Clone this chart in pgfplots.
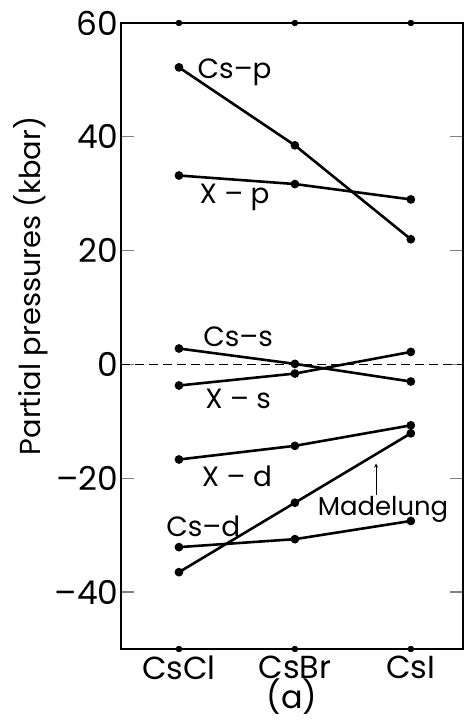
\documentclass[border=0pt]{standalone}
\usepackage{fontspec}
\setmainfont{Poppins}
\usepackage{pgfplots}
\pgfplotsset{compat=1.18}
\pgfplotsset{myline/.style={black, solid, line width=2.6pt, mark=*, mark size=3pt, mark options={solid, fill=black}}}
\begin{document}
\begin{tikzpicture}
\begin{axis}[
  scale only axis,
  width=342bp, height=626bp,
  xmin=-0.5, xmax=2.45,
  ymin=-50, ymax=60,
  xtick={0,1,2},
  xticklabels={CsCl,CsBr,CsI},
  ytick={-40,-20,0,20,40,60},
  yticklabels={\textendash40,\textendash20,0,20,40,60},
  xtick style={draw=none},
  ytick style={line width=1.2pt},
  major tick length=13bp,
  axis line style={line width=1.4pt},
  xticklabel style={font=\fontsize{32}{34}\selectfont, yshift=-6bp, inner sep=1bp},
  yticklabel style={font=\fontsize{33}{35}\selectfont, xshift=1bp},
  ylabel={Partial pressures (kbar)},
  ylabel style={font=\fontsize{29}{31}\selectfont, at={(ticklabel cs:0.58)}},
  xlabel={(a)},
  xlabel style={font=\fontsize{32}{34}\selectfont, yshift=4bp, inner sep=1bp},
  clip=false,
]
\addplot[myline] coordinates {(0,52.2) (1,38.5) (2,22.0)};
\addplot[myline] coordinates {(0,33.2) (1,31.7) (2,29.0)};
\addplot[myline] coordinates {(0,2.8) (1,0.1) (2,-3.0)};
\addplot[myline] coordinates {(0,-3.7) (1,-1.6) (2,2.2)};
\addplot[myline] coordinates {(0,-16.7) (1,-14.3) (2,-10.7)};
\addplot[myline] coordinates {(0,-36.5) (1,-24.3) (2,-12.1)};
\addplot[myline] coordinates {(0,-32.1) (1,-30.7) (2,-27.5)};
\addplot[black, only marks, mark=*, mark size=3pt] coordinates {(0,60) (1,60) (2,60)};
\addplot[black, only marks, mark=*, mark size=3pt] coordinates {(0,-50) (1,-50) (2,-50)};
\addplot[black, no marks, line width=1.8pt, dash pattern=on 9bp off 5bp] coordinates {(-0.5,0) (2.45,0)};
\node[font=\fontsize{28}{30}\selectfont] at (axis cs:0.48,51.3) {Cs\textendash p};
\node[font=\fontsize{28}{30}\selectfont] at (axis cs:0.48,29.3) {X \textendash\ p};
\node[font=\fontsize{28}{30}\selectfont] at (axis cs:0.51,4.8) {Cs\textendash s};
\node[font=\fontsize{28}{30}\selectfont] at (axis cs:0.51,-6.0) {X \textendash\ s};
\node[font=\fontsize{28}{30}\selectfont] at (axis cs:0.50,-19.6) {X \textendash\ d};
\node[font=\fontsize{28}{30}\selectfont] at (axis cs:0.21,-28.4) {Cs\textendash d};
\node[font=\fontsize{26}{28}\selectfont] at (axis cs:1.76,-25.4) {Madelung};
\draw[->, line width=0.9pt, >=stealth] (axis cs:1.7,-22.9) -- (axis cs:1.7,-17.4);
\end{axis}
\pgfresetboundingbox
\path[use as bounding box] (current axis.south west) ++(-121bp,-78bp) rectangle ([shift={(4bp,23bp)}]current axis.north east);
\end{tikzpicture}
\end{document}
